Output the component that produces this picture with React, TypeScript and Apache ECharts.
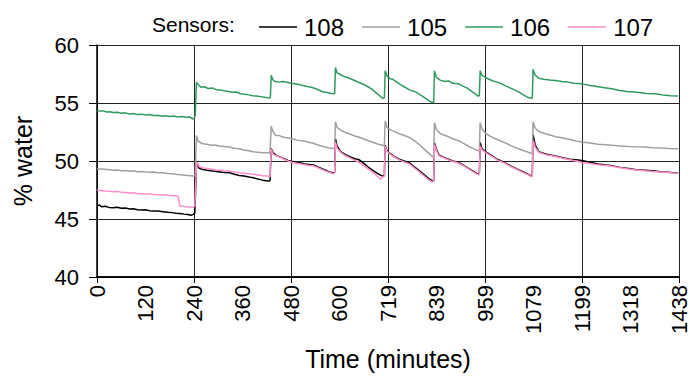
import React, { useEffect, useRef } from "react";
import * as echarts from "echarts";

const tickLabels = ["0", "120", "240", "360", "480", "600", "719", "839", "959", "1079", "1199", "1318", "1438"];
const seriesNames = ["108", "105", "106", "107"];
const seriesColors = ["#000000", "#a0a0a0", "#2f9a60", "#ff8ec8"];

const s108: [number, number][] = [
  [0,46.15],[6,46.2],[12,46.05],[20,46.1],[30,46.0],[40,45.98],[50,46.02],[60,45.92],[70,45.95],[81,45.86],[90,45.88],[100,45.8],[110,45.78],[120,45.8],[130,45.72],[140,45.7],[150,45.68],[164,45.63],[175,45.58],[185,45.55],[195,45.5],[205,45.48],[215,45.42],[225,45.38],[232,45.32],[238,45.4],[242,45.5],
  [246,49.5],[248,49.82],[252,49.4],[262,49.26],[272,49.2],[282,49.15],[295,49.1],[305,49.05],[315,49.0],[328,48.98],[340,48.85],[352,48.75],[364,48.7],[376,48.62],[386,48.56],[398,48.45],[410,48.35],[423,48.28],[428,48.3],
  [431,51.07],[436,50.7],[443,50.5],[451,50.38],[462,50.2],[473,50.05],[484,49.96],[495,49.88],[505,49.82],[515,49.75],[525,49.7],[534,49.68],[545,49.5],[555,49.35],[565,49.2],[575,49.05],[583,48.98],[588,49.0],
  [590,51.91],[594,51.3],[603,50.8],[615,50.55],[627,50.35],[638,50.2],[649,50.1],[660,49.8],[672,49.45],[684,49.15],[698,48.85],[706,48.7],[711,48.75],
  [713,51.35],[717,50.9],[725,50.65],[735,50.4],[748,50.15],[760,50.0],[772,49.87],[785,49.5],[798,49.15],[810,48.8],[820,48.5],[830,48.28],[833,48.3],
  [835,51.55],[840,51.0],[846,50.52],[856,50.35],[866,50.2],[880,50.0],[895,49.87],[908,49.6],[920,49.35],[932,49.1],[943,48.85],[946,48.9],
  [948,51.6],[952,51.1],[961,50.8],[975,50.5],[990,50.15],[1000,50.0],[1011,49.82],[1025,49.55],[1040,49.3],[1055,49.05],[1067,48.85],[1075,48.7],[1077,48.75],
  [1079,52.27],[1084,51.4],[1093,50.8],[1110,50.6],[1125,50.5],[1134,50.43],[1150,50.3],[1170,50.15],[1185,50.1],[1200,50.04],[1220,49.9],[1240,49.75],[1260,49.65],[1274,49.6],[1295,49.45],[1315,49.35],[1335,49.25],[1356,49.2],[1375,49.15],[1395,49.08],[1415,49.02],[1438,48.95]
];

const s105: [number, number][] = [
  [0,49.35],[10,49.3],[20,49.28],[30,49.25],[40,49.2],[50,49.22],[60,49.15],[70,49.18],[81,49.12],[90,49.15],[100,49.08],[110,49.1],[120,49.05],[130,49.02],[140,49.05],[150,48.98],[164,48.98],[175,48.92],[185,48.9],[195,48.85],[205,48.82],[215,48.8],[225,48.75],[237,48.7],[243,48.72],
  [246,52.2],[250,51.7],[262,51.49],[272,51.45],[282,51.35],[292,51.38],[302,51.3],[315,51.25],[328,51.21],[340,51.1],[352,51.05],[364,50.95],[376,50.88],[386,50.8],[398,50.75],[410,50.72],[423,50.71],[428,50.7],
  [431,53.0],[436,52.5],[443,52.19],[451,52.19],[462,52.05],[473,51.98],[484,51.91],[495,51.8],[505,51.75],[515,51.7],[525,51.6],[534,51.55],[545,51.4],[555,51.3],[565,51.2],[575,51.12],[583,51.07],[588,51.1],
  [590,53.39],[594,52.9],[603,52.66],[615,52.45],[627,52.3],[638,52.15],[649,52.05],[660,51.9],[672,51.75],[684,51.6],[696,51.45],[706,51.35],[711,51.3],
  [713,53.45],[717,52.9],[725,52.7],[735,52.55],[748,52.35],[760,52.2],[772,52.05],[785,51.75],[798,51.4],[810,51.0],[820,50.7],[830,50.38],[833,50.45],
  [835,53.3],[840,52.7],[850,52.35],[862,52.2],[875,52.0],[885,51.85],[895,51.75],[908,51.5],[920,51.25],[932,51.05],[943,50.88],[946,50.9],
  [948,53.3],[952,52.8],[961,52.38],[975,52.1],[990,51.85],[1000,51.7],[1011,51.55],[1025,51.3],[1040,51.1],[1055,50.9],[1067,50.75],[1075,50.65],[1077,50.7],
  [1079,53.39],[1084,52.85],[1093,52.55],[1110,52.35],[1125,52.2],[1134,52.1],[1150,52.0],[1170,51.85],[1185,51.72],[1200,51.63],[1220,51.55],[1240,51.45],[1260,51.4],[1274,51.35],[1295,51.3],[1315,51.25],[1335,51.22],[1356,51.21],[1375,51.15],[1395,51.12],[1415,51.08],[1438,51.05]
];

const s106: [number, number][] = [
  [0,54.35],[8,54.3],[16,54.32],[24,54.22],[32,54.25],[40,54.18],[50,54.2],[60,54.12],[70,54.15],[80,54.06],[90,54.1],[100,54.0],[110,54.04],[120,53.97],[130,54.0],[140,53.92],[150,53.95],[160,53.86],[170,53.9],[180,53.84],[190,53.87],[200,53.8],[210,53.83],[220,53.78],[230,53.8],[236,53.62],[240,53.7],[243,53.9],
  [246,56.8],[250,56.6],[258,56.35],[266,56.4],[275,56.25],[285,56.3],[295,56.15],[305,56.12],[315,56.05],[325,56.0],[335,55.92],[345,55.95],[355,55.8],[365,55.75],[375,55.7],[385,55.62],[395,55.6],[405,55.55],[415,55.5],[425,55.42],[429,55.45],
  [431,57.4],[435,57.0],[440,56.85],[450,56.8],[460,56.85],[470,56.78],[480,56.7],[490,56.65],[500,56.6],[510,56.5],[520,56.42],[530,56.35],[540,56.25],[550,56.1],[560,55.95],[570,55.9],[580,55.82],[588,55.8],
  [590,58.05],[594,57.6],[600,57.5],[610,57.3],[620,57.2],[630,57.05],[640,56.9],[650,56.75],[660,56.6],[670,56.4],[680,56.2],[690,55.9],[700,55.6],[708,55.4],[711,55.45],
  [713,57.77],[718,57.3],[725,57.1],[731,57.05],[740,56.85],[750,56.6],[760,56.4],[770,56.2],[780,56.05],[788,55.96],[795,55.8],[805,55.6],[815,55.35],[825,55.1],[833,55.02],
  [835,57.77],[840,57.2],[850,56.95],[862,56.85],[870,56.9],[880,56.7],[895,56.65],[905,56.45],[915,56.3],[925,56.05],[935,55.8],[943,55.6],[946,55.65],
  [948,57.77],[952,57.4],[961,57.2],[970,57.05],[980,56.9],[990,56.8],[1002,56.65],[1012,56.45],[1022,56.3],[1032,56.15],[1043,55.96],[1055,55.7],[1065,55.5],[1075,55.4],[1077,55.45],
  [1079,57.9],[1084,57.4],[1093,57.13],[1105,57.05],[1120,56.98],[1134,56.93],[1150,56.85],[1165,56.8],[1180,56.7],[1200,56.65],[1220,56.5],[1240,56.4],[1260,56.3],[1274,56.23],[1290,56.1],[1310,56.0],[1323,55.96],[1340,55.9],[1360,55.82],[1381,55.8],[1400,55.7],[1420,55.62],[1438,55.6]
];

const s107: [number, number][] = [
  [0,47.5],[10,47.45],[20,47.42],[30,47.4],[40,47.35],[50,47.38],[60,47.3],[70,47.28],[81,47.25],[90,47.27],[100,47.2],[110,47.18],[120,47.15],[130,47.15],[140,47.12],[150,47.1],[164,47.09],[175,47.05],[185,47.02],[195,47.0],[201,46.97],[203,46.5],[205,46.12],[215,46.08],[225,46.05],[236,46.0],[242,46.1],
  [246,49.6],[248,49.87],[252,49.55],[262,49.4],[272,49.35],[282,49.3],[295,49.22],[305,49.2],[315,49.15],[328,49.12],[340,49.05],[352,48.98],[364,48.95],[376,48.9],[386,48.85],[398,48.8],[410,48.72],[423,48.7],[428,48.65],
  [431,51.0],[436,50.6],[443,50.45],[451,50.35],[462,50.15],[473,50.0],[484,49.87],[495,49.8],[505,49.75],[515,49.68],[525,49.62],[534,49.6],[545,49.45],[555,49.3],[565,49.15],[575,49.02],[583,48.93],[588,48.95],
  [590,51.63],[594,51.1],[603,50.75],[615,50.45],[627,50.25],[638,50.05],[649,49.87],[660,49.6],[672,49.3],[684,49.0],[698,48.56],[702,48.4],[706,48.6],[711,48.7],
  [713,51.3],[717,50.85],[725,50.6],[735,50.35],[748,50.1],[760,49.92],[772,49.76],[785,49.4],[798,49.05],[810,48.7],[820,48.4],[830,48.2],[833,48.25],
  [835,51.4],[840,50.9],[846,50.45],[856,50.3],[866,50.15],[880,49.95],[895,49.82],[908,49.55],[920,49.3],[932,49.05],[943,48.8],[946,48.85],
  [948,51.3],[952,51.0],[961,50.75],[975,50.45],[990,50.1],[1000,49.95],[1011,49.78],[1025,49.5],[1040,49.25],[1055,49.0],[1067,48.8],[1075,48.65],[1077,48.7],
  [1079,51.77],[1084,51.2],[1093,50.75],[1110,50.55],[1125,50.45],[1134,50.38],[1150,50.25],[1170,50.1],[1185,50.0],[1200,49.87],[1220,49.78],[1240,49.68],[1260,49.62],[1274,49.55],[1295,49.42],[1315,49.32],[1335,49.22],[1356,49.15],[1375,49.1],[1395,49.05],[1415,49.0],[1438,48.92]
];

const seriesData = [s108, s105, s106, s107];

const FONT = "'Liberation Sans', Arial, sans-serif";

export default function App() {
  const ref = useRef<HTMLDivElement>(null);
  useEffect(() => {
    if (!ref.current) return;
    const chart = echarts.init(ref.current, undefined, { renderer: "svg" });
    chart.setOption({
      animation: false,
      backgroundColor: "#ffffff",
      textStyle: { fontFamily: FONT },
      grid: { left: 97, right: 10, top: 45, bottom: 92, containLabel: false },
      graphic: [
        {
          type: "text",
          left: 152,
          top: 14,
          style: { text: "Sensors:", fontSize: 21, fontFamily: FONT, fill: "#000" },
        },
      ],
      legend: {
        data: seriesNames,
        left: 254,
        top: 10,
        itemWidth: 38,
        itemHeight: 14,
        itemGap: 18,
        icon: "path://M0,0 L38,0 L38,1.5 L0,1.5 Z",
        textStyle: { fontSize: 24, fontFamily: FONT, color: "#000", padding: [0, 0, 0, 2] },
      },
      xAxis: [
        {
          type: "value",
          min: 0,
          max: 1440,
          interval: 120,
          position: "bottom",
          axisLine: { show: true, lineStyle: { color: "#000", width: 1.5 } },
          axisTick: { show: false },
          splitLine: { show: false },
          axisLabel: {
            rotate: 90,
            fontSize: 22,
            color: "#000",
            fontFamily: FONT,
            margin: 8,
            showMinLabel: true,
            showMaxLabel: true,
            formatter: (v: number) => tickLabels[Math.round(v / 120)] ?? "",
          },
          name: "Time (minutes)",
          nameLocation: "middle",
          nameGap: 69,
          nameTextStyle: { fontSize: 25, color: "#000", fontFamily: FONT },
        },
        {
          type: "value",
          min: 0,
          max: 1440,
          interval: 240,
          position: "bottom",
          axisLine: { show: true, lineStyle: { color: "#000", width: 1.5 } },
          axisTick: { show: true, length: 6, lineStyle: { color: "#000" } },
          splitLine: { show: true, lineStyle: { color: "#222", width: 1 } },
          axisLabel: { show: false },
        },
      ],
      yAxis: {
        type: "value",
        min: 40,
        max: 60,
        interval: 5,
        axisLine: { show: true, lineStyle: { color: "#000", width: 1.5 } },
        axisTick: { show: true, length: 8, lineStyle: { color: "#000" } },
        splitLine: { show: true, lineStyle: { color: "#222", width: 1 } },
        axisLabel: { fontSize: 22, color: "#000", fontFamily: FONT, margin: 18 },
        name: "% water",
        nameLocation: "middle",
        nameGap: 62,
        nameTextStyle: { fontSize: 25, color: "#000", fontFamily: FONT },
      },
      series: seriesNames.map((name, i) => ({
        name,
        type: "line",
        xAxisIndex: 0,
        data: seriesData[i],
        showSymbol: false,
        symbol: "none",
        lineStyle: { color: seriesColors[i], width: 1.5 },
        itemStyle: { color: seriesColors[i] },
        z: 3 + i,
      })),
    });
    return () => chart.dispose();
  }, []);
  return <div ref={ref} style={{ position: "fixed", left: 0, top: 0, width: 690, height: 376 }} />;
}
